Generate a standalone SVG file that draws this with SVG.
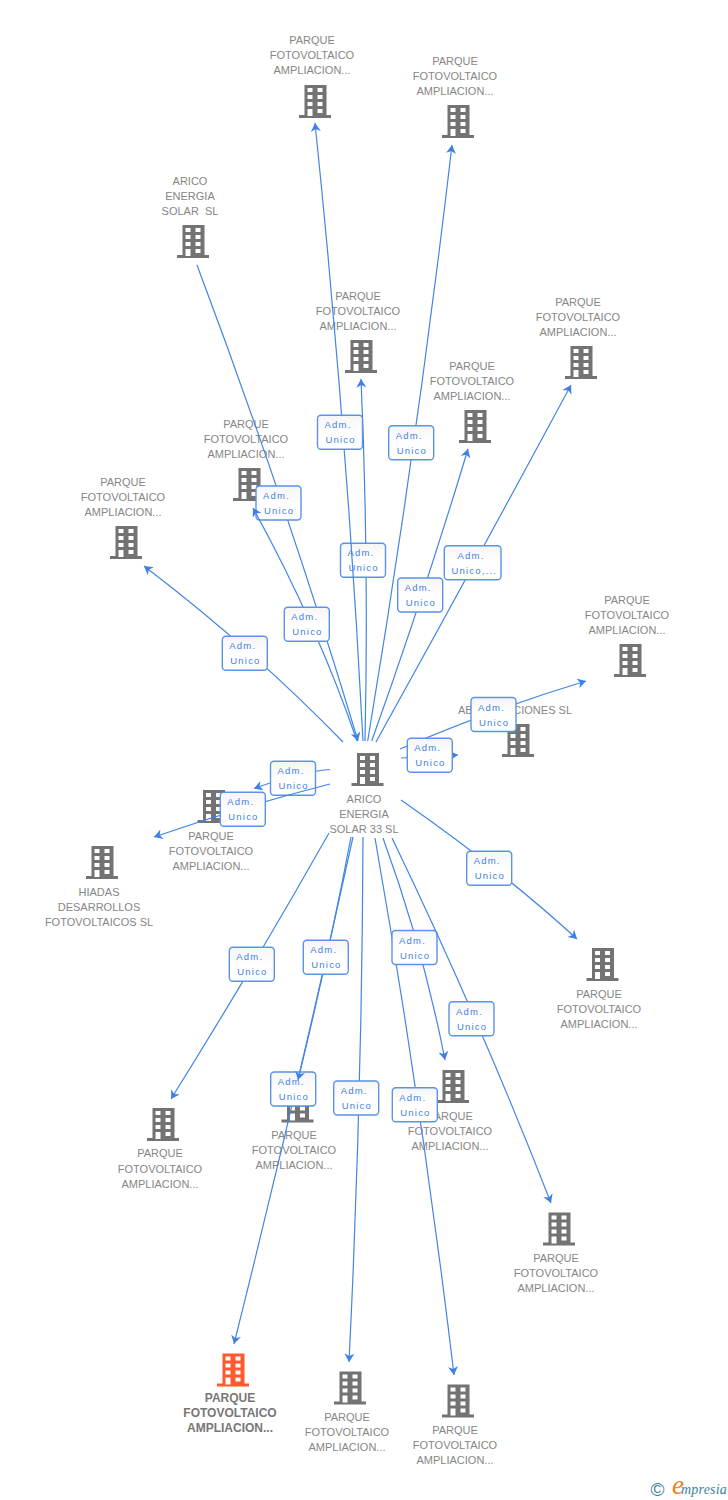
<svg xmlns="http://www.w3.org/2000/svg" width="728" height="1500" viewBox="0 0 728 1500">
<style>
text{font-family:"Liberation Sans",Arial,sans-serif}
.t{font-size:11px;fill:#868686;text-anchor:middle}
.b{font-size:12px;fill:#777;text-anchor:middle;font-weight:bold}
.c{fill:none;stroke:#4285e4;stroke-width:1.2;marker-end:url(#arrow)}
.l{fill:url(#lg);stroke:#5a93e8;stroke-width:1.4}
.a{font-size:9.500px;fill:#3f80e4;letter-spacing:1.2px}
</style>
<defs>
<marker id="arrow" markerUnits="userSpaceOnUse" markerWidth="10" markerHeight="11" refX="8.500" refY="5" orient="auto"><path d="M8.500,5L0,0L2.500,5L0,10Z" fill="#3f80e4"/></marker>
<linearGradient id="lg" x1="0" y1="0" x2="0" y2="1"><stop offset="0" stop-color="#f5f5f5"/><stop offset=".5" stop-color="#fff"/></linearGradient>
<g id="bld"><path d="M5.500 0H27.500V30H32V33H0V30H5.500ZM8.500 3V7H13.500V3ZM18.500 3V7H23.500V3ZM8.500 10V14H13.500V10ZM18.500 10V14H23.500V10ZM8.500 17V21H13.500V17ZM18.500 17V21H23.500V17ZM8.500 24V31H13.500V24ZM18.500 24V28H23.500V24Z" fill="#737373" fill-rule="evenodd"/></g>
<g id="bldo"><path d="M5.500 0H27.500V30H32V33H0V30H5.500ZM8.500 3V7H13.500V3ZM18.500 3V7H23.500V3ZM8.500 10V14H13.500V10ZM18.500 10V14H23.500V10ZM8.500 17V21H13.500V17ZM18.500 17V21H23.500V17ZM8.500 24V31H13.500V24ZM18.500 24V28H23.500V24Z" fill="#ff5a2d" fill-rule="evenodd"/></g>
</defs>
<rect width="728" height="1500" fill="#fff"/>
<g id="nodes">
<g id="n1"><use href="#bld" x="299" y="85"/><text class="t" x="312" y="44">PARQUE</text><text class="t" x="312" y="59">FOTOVOLTAICO</text><text class="t" x="312" y="74">AMPLIACION...</text></g>
<g id="n2"><use href="#bld" x="442" y="105"/><text class="t" x="455" y="65">PARQUE</text><text class="t" x="455" y="80">FOTOVOLTAICO</text><text class="t" x="455" y="95">AMPLIACION...</text></g>
<g id="n3"><use href="#bld" x="177" y="225"/><text class="t" x="190" y="185">ARICO</text><text class="t" x="190" y="200">ENERGIA</text><text class="t" x="190" y="215" xml:space="preserve">SOLAR  SL</text></g>
<g id="n4"><use href="#bld" x="345" y="340"/><text class="t" x="358" y="300">PARQUE</text><text class="t" x="358" y="315">FOTOVOLTAICO</text><text class="t" x="358" y="330">AMPLIACION...</text></g>
<g id="n5"><use href="#bld" x="459" y="410"/><text class="t" x="472" y="370">PARQUE</text><text class="t" x="472" y="385">FOTOVOLTAICO</text><text class="t" x="472" y="400">AMPLIACION...</text></g>
<g id="n6"><use href="#bld" x="565" y="346"/><text class="t" x="578" y="306">PARQUE</text><text class="t" x="578" y="321">FOTOVOLTAICO</text><text class="t" x="578" y="336">AMPLIACION...</text></g>
<g id="n7"><use href="#bld" x="233" y="468"/><text class="t" x="246" y="428">PARQUE</text><text class="t" x="246" y="443">FOTOVOLTAICO</text><text class="t" x="246" y="458">AMPLIACION...</text></g>
<g id="n8"><use href="#bld" x="110" y="526"/><text class="t" x="123" y="486">PARQUE</text><text class="t" x="123" y="501">FOTOVOLTAICO</text><text class="t" x="123" y="516">AMPLIACION...</text></g>
<g id="n9"><use href="#bld" x="614" y="644"/><text class="t" x="627" y="604">PARQUE</text><text class="t" x="627" y="619">FOTOVOLTAICO</text><text class="t" x="627" y="634">AMPLIACION...</text></g>
<g id="n10"><use href="#bld" x="502" y="724"/><text class="t" style="text-anchor:start" x="458" y="714">AB</text><text class="t" style="text-anchor:end" x="572" y="714">CIONES SL</text></g>
<g id="main"><use href="#bld" x="351.500" y="753"/><text class="t" x="364" y="803">ARICO</text><text class="t" x="364" y="818">ENERGIA</text><text class="t" x="364" y="833">SOLAR 33 SL</text></g>
<g id="n12"><use href="#bld" x="197.500" y="790"/><text class="t" x="211" y="840">PARQUE</text><text class="t" x="211" y="855">FOTOVOLTAICO</text><text class="t" x="211" y="870">AMPLIACION...</text></g>
<g id="n13"><use href="#bld" x="86" y="846"/><text class="t" x="99" y="896">HIADAS</text><text class="t" x="99" y="911">DESARROLLOS</text><text class="t" x="99" y="926">FOTOVOLTAICOS SL</text></g>
<g id="n14"><use href="#bld" x="586.500" y="948"/><text class="t" x="599" y="998">PARQUE</text><text class="t" x="599" y="1013">FOTOVOLTAICO</text><text class="t" x="599" y="1028">AMPLIACION...</text></g>
<g id="n15"><use href="#bld" x="147" y="1108"/><text class="t" x="160" y="1157">PARQUE</text><text class="t" x="160" y="1173">FOTOVOLTAICO</text><text class="t" x="160" y="1188">AMPLIACION...</text></g>
<g id="n16"><use href="#bld" x="281.500" y="1089.500"/><text class="t" x="294" y="1139">PARQUE</text><text class="t" x="294" y="1154">FOTOVOLTAICO</text><text class="t" x="294" y="1169">AMPLIACION...</text></g>
<g id="n17"><use href="#bld" x="437" y="1070"/><text class="t" x="450" y="1120">PARQUE</text><text class="t" x="450" y="1135">FOTOVOLTAICO</text><text class="t" x="450" y="1150">AMPLIACION...</text></g>
<g id="n18"><use href="#bld" x="543" y="1212.500"/><text class="t" x="556" y="1262">PARQUE</text><text class="t" x="556" y="1277">FOTOVOLTAICO</text><text class="t" x="556" y="1292">AMPLIACION...</text></g>
<g id="n19"><use href="#bldo" x="217" y="1353.500"/><text class="b" x="230" y="1402">PARQUE</text><text class="b" x="230" y="1417">FOTOVOLTAICO</text><text class="b" x="230" y="1432">AMPLIACION...</text></g>
<g id="n20"><use href="#bld" x="334" y="1371.500"/><text class="t" x="347" y="1421">PARQUE</text><text class="t" x="347" y="1436">FOTOVOLTAICO</text><text class="t" x="347" y="1451">AMPLIACION...</text></g>
<g id="n21"><use href="#bld" x="442" y="1384.500"/><text class="t" x="455" y="1434">PARQUE</text><text class="t" x="455" y="1449">FOTOVOLTAICO</text><text class="t" x="455" y="1464">AMPLIACION...</text></g>
</g>
<g id="connectors">
<path class="c" d="M197 265Q286.500 503 358 741"/>
<g><rect class="l" x="256" y="486" width="45" height="34" rx="3.500"/><text class="a" x="263" y="499">Adm.</text><text class="a" x="264" y="514">Unico</text></g>
<path class="c" d="M357 741Q317 624.500 253 508"/>
<g><rect class="l" x="284.300" y="607.300" width="45" height="34" rx="3.500"/><text class="a" x="291.300" y="620.300">Adm.</text><text class="a" x="292.300" y="635.300">Unico</text></g>
<path class="c" d="M343 742Q250.500 647 144 566"/>
<g><rect class="l" x="222.300" y="636.300" width="45" height="34" rx="3.500"/><text class="a" x="229.300" y="649.300">Adm.</text><text class="a" x="230.300" y="664.300">Unico</text></g>
<path class="c" d="M365 741Q369 560 361 379"/>
<g><rect class="l" x="340.500" y="543.300" width="45" height="34" rx="3.500"/><text class="a" x="347.500" y="556.300">Adm.</text><text class="a" x="348.500" y="571.300">Unico</text></g>
<path class="c" d="M363 741Q347 432 315 123"/>
<g><rect class="l" x="317.500" y="415.200" width="45" height="34" rx="3.500"/><text class="a" x="324.500" y="428.200">Adm.</text><text class="a" x="325.500" y="443.200">Unico</text></g>
<path class="c" d="M367.700 741Q417.400 443 452 145"/>
<g><rect class="l" x="388.700" y="425.700" width="45" height="34" rx="3.500"/><text class="a" x="395.700" y="438.700">Adm.</text><text class="a" x="396.700" y="453.700">Unico</text></g>
<path class="c" d="M371.700 741Q424 595 468 449"/>
<g><rect class="l" x="397.700" y="578" width="45" height="34" rx="3.500"/><text class="a" x="404.700" y="591">Adm.</text><text class="a" x="405.700" y="606">Unico</text></g>
<path class="c" d="M376 742Q475 563.500 571 385"/>
<g><rect class="l" x="444.300" y="545.700" width="56.700" height="34" rx="3.500"/><text class="a" x="457.500" y="558.700">Adm.</text><text class="a" x="451.500" y="573.700">Unico,...</text></g>
<path class="c" d="M400 749Q493 709 586 681"/>
<g><rect class="l" x="471" y="697.500" width="45" height="34" rx="3.500"/><text class="a" x="478" y="710.500">Adm.</text><text class="a" x="479" y="725.500">Unico</text></g>
<path class="c" d="M401 758L458 755"/>
<g><rect class="l" x="407.300" y="738.300" width="45" height="34" rx="3.500"/><text class="a" x="414.300" y="751.300">Adm.</text><text class="a" x="415.300" y="766.300">Unico</text></g>
<path class="c" d="M330 769.500Q300 772 254 788.500"/>
<g><rect class="l" x="270.500" y="761.300" width="45" height="34" rx="3.500"/><text class="a" x="277.500" y="774.300">Adm.</text><text class="a" x="278.500" y="789.300">Unico</text></g>
<path class="c" d="M330 784Q242 806.500 154 837"/>
<g><rect class="l" x="220.300" y="792.300" width="45" height="34" rx="3.500"/><text class="a" x="227.300" y="805.300">Adm.</text><text class="a" x="228.300" y="820.300">Unico</text></g>
<path class="c" d="M401 800Q501 869.500 577 939"/>
<g><rect class="l" x="466.700" y="851.300" width="45" height="34" rx="3.500"/><text class="a" x="473.700" y="864.300">Adm.</text><text class="a" x="474.700" y="879.300">Unico</text></g>
<path class="c" d="M329 833Q254 966 171 1099"/>
<g><rect class="l" x="229.300" y="947.300" width="45" height="34" rx="3.500"/><text class="a" x="236.300" y="960.300">Adm.</text><text class="a" x="237.300" y="975.300">Unico</text></g>
<path class="c" d="M353 837Q297.500 1090.500 234 1344"/>
<g><rect class="l" x="270.700" y="1072" width="45" height="34" rx="3.500"/><text class="a" x="277.700" y="1085">Adm.</text><text class="a" x="278.700" y="1100">Unico</text></g>
<path class="c" d="M351 837Q328 958 298 1080"/>
<g><rect class="l" x="303.300" y="940.300" width="45" height="34" rx="3.500"/><text class="a" x="310.300" y="953.300">Adm.</text><text class="a" x="311.300" y="968.300">Unico</text></g>
<path class="c" d="M363 837Q362 1100 349 1362"/>
<g><rect class="l" x="333.700" y="1081" width="45" height="34" rx="3.500"/><text class="a" x="340.700" y="1094">Adm.</text><text class="a" x="341.700" y="1109">Unico</text></g>
<path class="c" d="M375 838Q422 1106 454 1375"/>
<g><rect class="l" x="392.300" y="1087.700" width="45" height="34" rx="3.500"/><text class="a" x="399.300" y="1100.700">Adm.</text><text class="a" x="400.300" y="1115.700">Unico</text></g>
<path class="c" d="M383 838Q423.400 949 445 1060"/>
<g><rect class="l" x="392" y="930.500" width="45" height="34" rx="3.500"/><text class="a" x="399" y="943.500">Adm.</text><text class="a" x="400" y="958.500">Unico</text></g>
<path class="c" d="M392 838Q480 1020.500 551 1203"/>
<g><rect class="l" x="449" y="1001.700" width="45" height="34" rx="3.500"/><text class="a" x="456" y="1014.700">Adm.</text><text class="a" x="457" y="1029.700">Unico</text></g>
</g>
<g id="logo"><text x="650.500" y="1496" font-size="19" fill="#3e7f9c">©</text><text x="672" y="1494" font-size="27" fill="#f08020" font-style="italic" style="font-family:'Liberation Serif',serif">e</text><text x="681" y="1494" font-size="14" letter-spacing=".2" fill="#3e7f9c" font-style="italic" style="font-family:'Liberation Serif',serif">mpresia</text></g>
</svg>
